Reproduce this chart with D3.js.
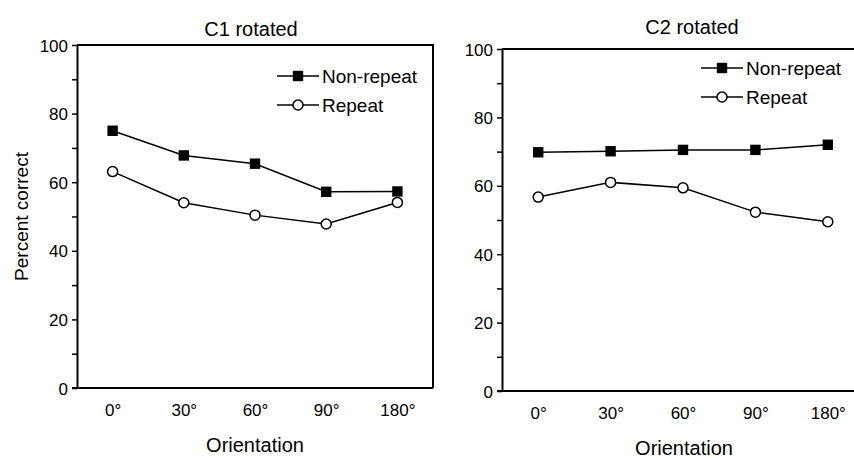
<html>
<head>
<meta charset="UTF-8">
<title>Orientation</title>
<script src="https://d3js.org/d3.v7.min.js"></script>
<style>
body { margin: 0; background: white; }
svg { font-family: "Liberation Sans", Arial, sans-serif; }
</style>
</head>
<body>
<svg id="chart" width="854" height="458"></svg>
<script>
// values
var orientations = ["0°", "30°", "60°", "90°", "180°"];
var yTicks = [0, 10, 20, 30, 40, 50, 60, 70, 80, 90, 100];
var seriesNames = ["Non-repeat", "Repeat"];

var c1NonRepeat = [75.0, 67.8, 65.4, 57.2, 57.3];
var c1Repeat    = [63.1, 54.0, 50.4, 47.8, 54.1];
var c2NonRepeat = [69.8, 70.1, 70.5, 70.5, 72.0];
var c2Repeat    = [56.7, 61.0, 59.4, 52.3, 49.5];

var svg = d3.select("#chart");

function panel(title, nonRep, rep, box) {
  var x = d3.scalePoint().domain(orientations).range([box.left, box.right]).padding(0.5);
  var y = d3.scaleLinear().domain([0, 100]).range([box.bottom, box.top]);
  var g = svg.append("g");

  // frame: top and right sides
  g.append("path")
    .attr("d", "M" + box.left + "," + y(100) + "H" + box.right + "V" + y(0))
    .attr("fill", "none").attr("stroke", "black").attr("stroke-width", 2);

  var yAxis = d3.axisLeft(y).tickValues(yTicks).tickSize(5).tickSizeOuter(0)
    .tickFormat(function(d) { return d % 20 == 0 ? d : ""; });
  var ya = g.append("g").attr("transform", "translate(" + box.left + ",0)").call(yAxis);
  ya.select(".domain").attr("stroke-width", 2);
  ya.selectAll(".tick line").attr("stroke-width", 1.5);
  ya.selectAll("text").attr("font-size", 17).attr("font-family", null).attr("x", -9).attr("dy", "0.36em");

  // bottom axis line reaching out to the 0 tick
  g.append("line").attr("x1", box.left - 5).attr("x2", box.right)
    .attr("y1", y(0)).attr("y2", y(0)).attr("stroke", "black").attr("stroke-width", 2);

  var xAxis = d3.axisBottom(x).tickSize(0);
  var xa = g.append("g").attr("transform", "translate(0," + y(0) + ")").call(xAxis);
  xa.select(".domain").remove();
  xa.selectAll("text").attr("font-size", 17).attr("font-family", null).attr("y", 16).attr("dy", "0.71em");

  g.append("text").attr("x", (box.left + box.right) / 2 + box.titleShift).attr("y", box.titleY)
    .attr("text-anchor", "middle").attr("font-size", 20).text(title);
  g.append("text").attr("x", (box.left + box.right) / 2 + box.xLabelShift).attr("y", y(0) + 64)
    .attr("text-anchor", "middle").attr("font-size", 20).text("Orientation");

  if (box.yLabel) {
    g.append("text").attr("transform", "translate(28," + ((box.top + box.bottom) / 2) + ") rotate(-90)")
      .attr("text-anchor", "middle").attr("font-size", 19).text(box.yLabel);
  }

  var line = d3.line().x(function(d, i) { return x(orientations[i]); }).y(function(d) { return y(d); });

  g.append("path").datum(nonRep).attr("d", line)
    .attr("fill", "none").attr("stroke", "black").attr("stroke-width", 1.5);
  g.append("path").datum(rep).attr("d", line)
    .attr("fill", "none").attr("stroke", "black").attr("stroke-width", 1.5);

  g.selectAll(".sq").data(nonRep).enter().append("rect")
    .attr("x", function(d, i) { return x(orientations[i]) - 5.2; })
    .attr("y", function(d) { return y(d) - 5.2; })
    .attr("width", 10.4).attr("height", 10.4).attr("fill", "black");
  g.selectAll(".ci").data(rep).enter().append("circle")
    .attr("cx", function(d, i) { return x(orientations[i]); })
    .attr("cy", function(d) { return y(d); })
    .attr("r", 5).attr("fill", "white").attr("stroke", "black").attr("stroke-width", 1.5);

  // legend
  var lg = g.append("g").attr("transform", "translate(" + box.legX + "," + box.legY + ")");
  seriesNames.forEach(function(name, i) {
    var yy = i * 29;
    lg.append("line").attr("x1", 0).attr("x2", 42).attr("y1", yy).attr("y2", yy)
      .attr("stroke", "black").attr("stroke-width", 1.5);
    if (i == 0) {
      lg.append("rect").attr("x", 21 - 5.2).attr("y", yy - 5.2).attr("width", 10.4).attr("height", 10.4).attr("fill", "black");
    } else {
      lg.append("circle").attr("cx", 21).attr("cy", yy).attr("r", 5)
        .attr("fill", "white").attr("stroke", "black").attr("stroke-width", 1.5);
    }
    lg.append("text").attr("x", 45).attr("y", yy).attr("dy", "0.36em")
      .attr("font-size", 19).text(name);
  });
}

panel("C1 rotated", c1NonRepeat, c1Repeat,
  {left: 77, right: 433, top: 45, bottom: 388, titleY: 36, titleShift: -4, xLabelShift: 0, legX: 277, legY: 76, yLabel: "Percent correct"});
panel("C2 rotated", c2NonRepeat, c2Repeat,
  {left: 502, right: 864, top: 49, bottom: 391, titleY: 34, titleShift: 9, xLabelShift: 1, legX: 701, legY: 68});
</script>
</body>
</html>
